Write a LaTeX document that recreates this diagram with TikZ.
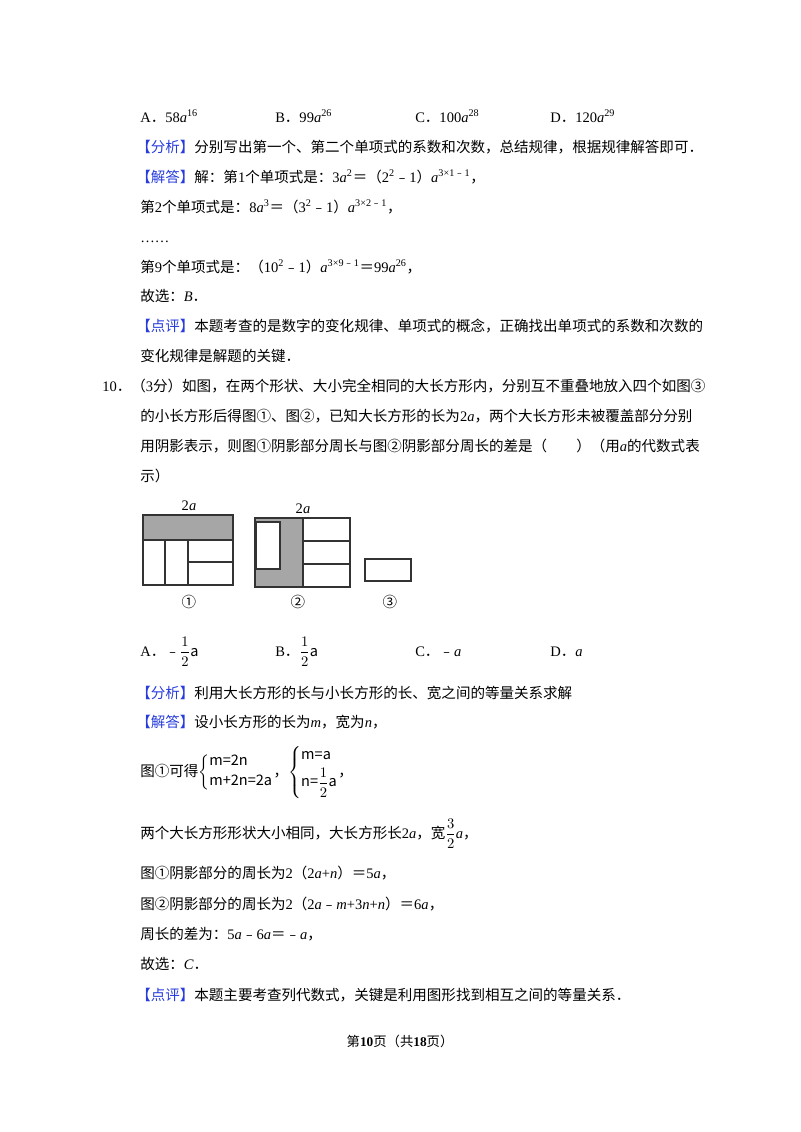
\documentclass[tikz,border=0pt]{standalone}
\usepackage{amsmath}
\usepackage{fontspec}
\setmainfont{Liberation Serif}
\newfontfamily\cjk{Noto Sans CJK SC}
\newcommand\z[1]{{\cjk #1}}
\definecolor{tagblue}{RGB}{40,60,220}
\newcommand\tg[1]{{\color{tagblue}\cjk 【#1】}}
\newcommand\va{\textit{a}}
\newcommand\mn{{\cjk ﹣}}
\begin{document}
\begin{tikzpicture}[x=0.75pt,y=-0.75pt,
  t/.style={anchor=base west,inner sep=0pt,font=\fontsize{10.9}{13}\selectfont},
  fig/.style={draw=black!80,line width=0.8pt},
  sh/.style={fill=black!35}]
\useasboundingbox (0,0) rectangle (800,1132);
\node[t] (a1) at (140,122) {A\z{．}58\va\textsuperscript{16}};
\node[t] (a2) at (275,122) {B\z{．}99\va\textsuperscript{26}};
\node[t] (a3) at (415,122) {C\z{．}100\va\textsuperscript{28}};
\node[t] (a4) at (550,122) {D\z{．}120\va\textsuperscript{29}};
\node[t] (l1) at (136,152) {\tg{分析}\z{分别写出第一个、第二个单项式的系数和次数，总结规律，根据规律解答即可．}};
\node[t] (l2) at (136,182) {\tg{解答}\z{解：第}1\z{个单项式是：}3\va\textsuperscript{2}\z{＝（}2\textsuperscript{2}\mn1\z{）}\va\textsuperscript{3×1\mn1}\z{，}};
\node[t] (l3) at (140,212) {\z{第}2\z{个单项式是：}8\va\textsuperscript{3}\z{＝（}3\textsuperscript{2}\mn1\z{）}\va\textsuperscript{3×2\mn1}\z{，}};
\node[t] (l4) at (140,242) {……};
\node[t] (l5) at (140,272) {\z{第}9\z{个单项式是：（}10\textsuperscript{2}\mn1\z{）}\va\textsuperscript{3×9\mn1}\z{＝}99\va\textsuperscript{26}\z{，}};
\node[t] (l6) at (140,301) {\z{故选：}\textit{B}\z{．}};
\node[t] (l7) at (136,331) {\tg{点评}\z{本题考查的是数字的变化规律、单项式的概念，正确找出单项式的系数和次数的}};
\node[t] (l8) at (140,361) {\z{变化规律是解题的关键．}};
\node[t] (q1) at (102,391) {10\z{．（}3\z{分）如图，在两个形状、大小完全相同的大长方形内，分别互不重叠地放入四个如图③}};
\node[t] (q2) at (140,421) {\z{的小长方形后得图①、图②，已知大长方形的长为}2\va\z{，两个大长方形未被覆盖部分分别}};
\node[t] (q3) at (140,451) {\z{用阴影表示，则图①阴影部分周长与图②阴影部分周长的差是（　　）（用}\va\z{的代数式表}};
\node[t] (q4) at (140,481) {\z{示）}};
% figure 1
\fill[sh] (143,515) rectangle (233,540);
\draw[fig] (143,515) rectangle (233,585);
\draw[fig] (143,540) -- (233,540) (165,540) -- (165,585) (188,540) -- (188,585) (188,562) -- (233,562);
\node[t,anchor=base] (f1l) at (189,510) {2\va};
\node[t,anchor=base] (f1n) at (189,607) {\z{①}};
% figure 2
\fill[sh] (255,518) rectangle (303,587);
\fill[white] (256,522) rectangle (280,569);
\draw[fig] (256,522) rectangle (280,569);
\draw[fig] (255,518) rectangle (350,587);
\draw[fig] (303,518) -- (303,587) (303,541) -- (350,541) (303,564) -- (350,564);
\node[t,anchor=base] (f2l) at (303,513) {2\va};
\node[t,anchor=base] (f2n) at (298,607) {\z{②}};
% figure 3
\draw[fig] (365,559) rectangle (411,581);
\node[t,anchor=base] (f3n) at (390,607) {\z{③}};
% options
\node[t] (o1) at (140,656) {A\z{．﹣}$\dfrac{1}{2}$\z{a}};
\node[t] (o2) at (275,656) {B\z{．}$\dfrac{1}{2}$\z{a}};
\node[t] (o3) at (415,656) {C\z{．﹣}\va};
\node[t] (o4) at (550,656) {D\z{．}\va};
\node[t] (s1) at (136,698) {\tg{分析}\z{利用大长方形的长与小长方形的长、宽之间的等量关系求解}};
\node[t] (s2) at (136,727) {\tg{解答}\z{设小长方形的长为}\textit{m}\z{，宽为}\textit{n}\z{，}};
\node[t] (s3) at (140,776) {\z{图①可得}$\left\{\begin{array}{@{}l@{}}\text{\z{m=2n}}\\[2pt]\text{\z{m+2n=2a}}\end{array}\right.$\z{，}$\left\{\begin{array}{@{}l@{}}\text{\z{m=a}}\\[2pt]\text{\z{n=}}\dfrac{1}{2}\text{\z{a}}\end{array}\right.$\z{，}};
\node[t] (s4) at (140,838) {\z{两个大长方形形状大小相同，大长方形长}2\va\z{，宽}$\dfrac{3}{2}$\va\z{，}};
\node[t] (s5) at (140,878) {\z{图①阴影部分的周长为}2\z{（}2\va+\textit{n}\z{）＝}5\va\z{，}};
\node[t] (s6) at (140,909) {\z{图②阴影部分的周长为}2\z{（}2\va\mn\textit{m}+3\textit{n}+\textit{n}\z{）＝}6\va\z{，}};
\node[t] (s7) at (140,939) {\z{周长的差为：}5\va\mn6\va\z{＝﹣}\va\z{，}};
\node[t] (s8) at (140,969) {\z{故选：}\textit{C}\z{．}};
\node[t] (s9) at (136,1000) {\tg{点评}\z{本题主要考查列代数式，关键是利用图形找到相互之间的等量关系．}};
\node[t,anchor=base,font=\fontsize{10}{12}\selectfont] (pg) at (400,1046) {\z{第}\textbf{10}\z{页（共}\textbf{18}\z{页）}};
\end{tikzpicture}
\end{document}
